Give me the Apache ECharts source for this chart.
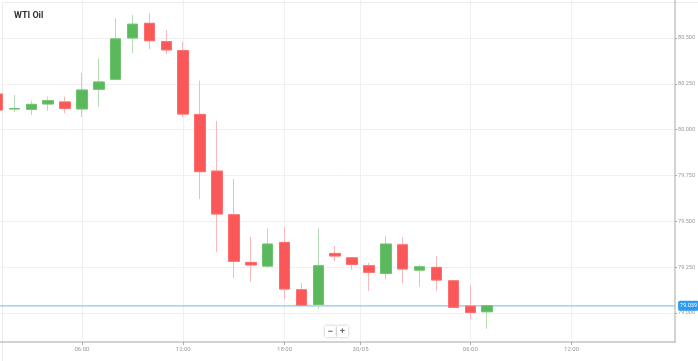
<!DOCTYPE html>
<html>
<head>
<meta charset="utf-8">
<script src="https://cdn.jsdelivr.net/npm/echarts@6/dist/echarts.min.js"></script>
<style>html,body{margin:0;padding:0;background:#fff;}#c{width:698px;height:361px;}</style>
</head>
<body>
<div id="c"></div>
<script>
// hourly slot index (trading hours, break removed)
const slots  = [0,1,2,3,4,5,6,7,8,9,10,11,12,13,14,15,16,17,18,19,20,21,22,23,24,25,26,27,28,29];
const opens  = [80.194,80.113,80.111,80.140,80.151,80.113,80.220,80.275,80.500,80.580,80.480,80.431,80.083,79.774,79.536,79.276,79.256,79.385,79.127,79.047,79.325,79.301,79.258,79.216,79.372,79.234,79.249,79.176,79.038,79.007];
const closes = [80.107,80.115,80.138,80.158,80.116,80.216,80.260,80.495,80.575,80.485,80.435,80.085,79.771,79.540,79.282,79.262,79.376,79.131,79.043,79.258,79.311,79.265,79.222,79.376,79.240,79.252,79.180,79.031,79.003,79.040];
const lows   = [80.090,80.096,80.080,80.102,80.089,80.069,80.125,80.270,80.417,80.438,80.411,80.067,79.622,79.334,79.192,79.171,79.244,79.076,79.034,79.022,79.282,79.237,79.121,79.183,79.162,79.143,79.121,79.030,78.967,78.914];
const highs  = [80.200,80.189,80.158,80.180,80.180,80.309,80.389,80.607,80.625,80.635,80.544,80.477,80.267,80.047,79.731,79.416,79.462,79.471,79.165,79.462,79.367,79.305,79.274,79.421,79.413,79.262,79.312,79.176,79.153,79.040];
const xTickValues = [5, 11, 17, 21.5, 28, 34];
const xTickLabels = ['06:00', '12:00', '18:00', '30/05', '06:00', '12:00'];
const yTickValues = [79.0, 79.25, 79.5, 79.75, 80.0, 80.25, 80.5];
const lastPrice = 79.039;
const title = 'WTI Oil';

const up = '#5cb85c', upWick = '#b5dcb5';
const down = '#fa5858', downWick = '#fbb8b8';

const full = slots.map((s, i) => [s, opens[i], closes[i], lows[i], highs[i]]);
const bodies = slots.map((s, i) => [s, opens[i], closes[i], Math.min(opens[i], closes[i]), Math.max(opens[i], closes[i])]);
const priceLine = [[0.148, lastPrice], [40.13, lastPrice]];

const chart = echarts.init(document.getElementById('c'), null, {renderer: 'canvas'});
chart.setOption({
  animation: false,
  backgroundColor: '#fff',
  title: {
    text: title, left: 9, top: 6,
    textStyle: {fontFamily: 'Roboto, sans-serif', fontSize: 9, fontWeight: 'bold', color: '#333'}
  },
  grid: {left: 0, top: 0, right: 22, bottom: 19, containLabel: false},
  xAxis: {
    type: 'value', min: 0.148, max: 40.13,
    axisLine: {show: true, onZero: false, lineStyle: {color: '#c4c4c4', width: 1.5}},
    axisTick: {show: true, customValues: xTickValues, length: 3, lineStyle: {color: '#aaa'}},
    axisLabel: {
      customValues: xTickValues,
      formatter: function (v) { const k = xTickValues.indexOf(v); return k >= 0 ? xTickLabels[k] : ''; },
      fontSize: 6, color: '#999', margin: 4, fontFamily: 'Roboto, sans-serif'
    },
    splitLine: {show: true, lineStyle: {color: '#f0f0f0', width: 1}}
  },
  yAxis: {
    type: 'value', position: 'right', min: 78.842, max: 80.707, scale: true,
    axisLine: {show: true, lineStyle: {color: '#c4c4c4', width: 1.5}},
    axisTick: {show: true, customValues: yTickValues, length: 2, lineStyle: {color: '#aaa'}},
    axisLabel: {
      customValues: yTickValues,
      formatter: function (v) { return v.toFixed(3); },
      fontSize: 5.5, color: '#999', margin: 3, fontFamily: 'Roboto, sans-serif'
    },
    splitLine: {show: true, lineStyle: {color: '#f0f0f0', width: 1}}
  },
  series: [
    {
      type: 'line', data: priceLine, symbol: 'none', silent: true, z: 1,
      lineStyle: {color: '#8ec6ef', width: 1.2},
      endLabel: {
        show: true, formatter: lastPrice.toFixed(3),
        backgroundColor: '#2d9cf0', color: '#fff', fontSize: 5.5, padding: [2, 2], borderRadius: 2,
        distance: 3, fontFamily: 'Roboto, sans-serif'
      }
    },
    {
      type: 'candlestick', data: full, encode: {x: 0, y: [1, 2, 3, 4]},
      barWidth: 11, clip: true, z: 2,
      itemStyle: {color: upWick, color0: downWick, borderColor: upWick, borderColor0: downWick, borderWidth: 1}
    },
    {
      type: 'candlestick', data: bodies, encode: {x: 0, y: [1, 2, 3, 4]},
      barWidth: 11, clip: true, z: 3,
      itemStyle: {color: up, color0: down, borderColor: '#6cc46c', borderColor0: '#ff6e6e', borderWidth: 1}
    }
  ],
  graphic: [
    {type: 'rect', left: 0, top: 0, shape: {width: 697, height: 360}, style: {fill: 'none', stroke: '#ececec', lineWidth: 1}, silent: true},
    {type: 'rect', shape: {x: 325, y: 326, width: 11, height: 11}, style: {fill: '#fff', shadowBlur: 3, shadowColor: 'rgba(0,0,0,0.25)'}},
    {type: 'rect', shape: {x: 337, y: 326, width: 11, height: 11}, style: {fill: '#fff', shadowBlur: 3, shadowColor: 'rgba(0,0,0,0.25)'}},
    {type: 'text', x: 330.5, y: 331.5, style: {text: '−', fontSize: 9, fontWeight: 'bold', fill: '#666', align: 'center', verticalAlign: 'middle'}},
    {type: 'text', x: 342.5, y: 331.5, style: {text: '+', fontSize: 9, fontWeight: 'bold', fill: '#666', align: 'center', verticalAlign: 'middle'}}
  ]
});
</script>
</body>
</html>
